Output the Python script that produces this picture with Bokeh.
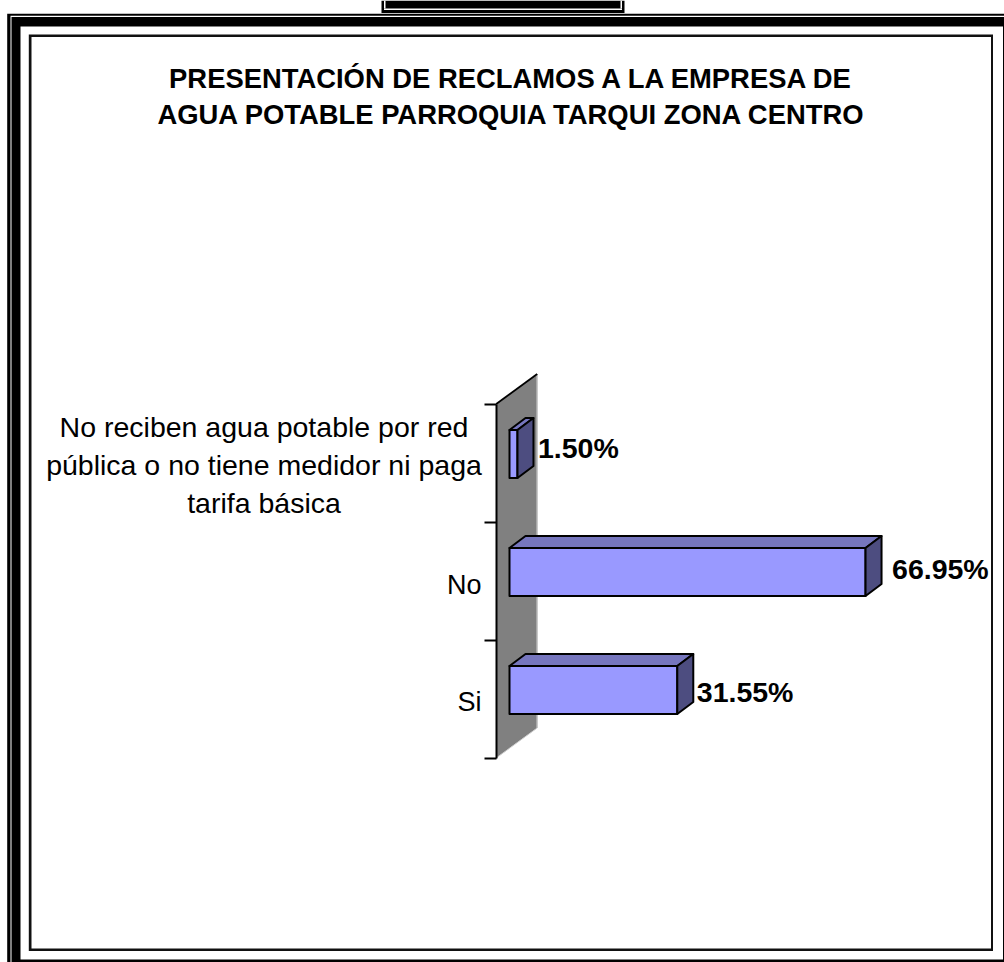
from bokeh.embed import file_html
from bokeh.resources import INLINE
from bokeh.plotting import figure
from bokeh.models import ColumnDataSource, LinearAxis, FixedTicker, BoxAnnotation, Range1d
from bokeh.core.properties import value

# --- data ---
categories = ["Si", "No", "No reciben agua potable por red\npública o no tiene medidor ni paga\ntarifa básica"]
percent = [31.55, 66.95, 1.50]
labels = ["31.55%", "66.95%", "1.50%"]
title_lines = ["PRESENTACIÓN DE RECLAMOS A LA EMPRESA DE", "AGUA POTABLE PARROQUIA TARQUI ZONA CENTRO"]
row_edges = [-0.5, 0.5, 1.5, 2.5]

# --- scale: page pixels <-> data ---
W, H = 1004, 962
PX_PER_PCT = 5.318
PX_PER_ROW = 118.0
X0_PX = 509.0
Y0_PX = 698.5
def X(px): return (px - X0_PX) / PX_PER_PCT
def Y(py): return (Y0_PX - py) / PX_PER_ROW

p = figure(width=W, height=H, output_backend="svg", toolbar_location=None,
           x_range=Range1d(X(0), X(W)), y_range=Range1d(Y(H), Y(0)),
           x_axis_type=None, y_axis_type=None, min_border=0,
           outline_line_color=None, background_fill_color="white", border_fill_color="white")
p.styles = {"position": "absolute", "left": "0px", "top": "0px"}
p.grid.visible = False

# --- page frames (screen units, measured from the top of the page) ---
def box(l, r, t, b, c):
    p.add_layout(BoxAnnotation(left=l, right=r, top=H - t, bottom=H - b, left_units="screen", right_units="screen",
                               top_units="screen", bottom_units="screen", fill_color=c, fill_alpha=1,
                               line_color=None, level="underlay"))
# small top box
box(381, 624, 0, 12.5, "black"); box(383.5, 621.5, 8, 9.5, "white"); box(383.5, 385, 0, 8, "white"); box(620, 621.5, 0, 8, "white")
# main thick frame
box(6.7, W, 13.3, H, "black")
box(10, W, 15.3, H, "white")
box(11, W, 16.5, H, "black")
box(20, 1002.5, 26, 959, "white")
# inner border
box(28.3, 992.5, 34, 950.5, "#111111")
box(31, 990.5, 36.5, 948, "white")

# --- wall ---
DEPTH_X = 41 / PX_PER_PCT
DEPTH_Y = 30 / PX_PER_ROW
ax_x = X(495.7)
wall_x = [ax_x, ax_x + DEPTH_X, ax_x + DEPTH_X, ax_x]
wall_y = [row_edges[0], row_edges[0] + DEPTH_Y, row_edges[-1] + DEPTH_Y, row_edges[-1]]
p.patch(wall_x, wall_y, fill_color="#808080", line_color=None)
p.line(wall_x[1:3] , wall_y[1:3], line_color="#c8c8c8", line_width=1.5)
p.line(wall_x[:2], wall_y[:2], line_color="#d0d0d0", line_width=1)
p.line(wall_x[2:], wall_y[2:], line_color="black", line_width=1.8)

# --- axis ---
axis = LinearAxis(fixed_location=ax_x, bounds=(row_edges[0], row_edges[-1]),
                  ticker=FixedTicker(ticks=row_edges),
                  major_label_overrides={t: "" for t in row_edges},
                  major_tick_in=0, major_tick_out=12, minor_tick_out=0, minor_tick_in=0,
                  major_tick_line_width=1.8, axis_line_width=2,
                  axis_line_color="black", major_tick_line_color="black")
p.add_layout(axis, "left")

# --- 3D bars ---
HALF = 24 / PX_PER_ROW
LIFT = 9 / PX_PER_ROW
DX = 16 / PX_PER_PCT
DY = 12 / PX_PER_ROW
front_xs, front_ys, top_xs, top_ys, side_xs, side_ys = [], [], [], [], [], []
for i, v in enumerate(percent):
    lo, hi = i + LIFT - HALF, i + LIFT + HALF
    front_xs.append([0, v, v, 0]); front_ys.append([lo, lo, hi, hi])
    top_xs.append([0, v, v + DX, DX]); top_ys.append([hi, hi, hi + DY, hi + DY])
    side_xs.append([v, v + DX, v + DX, v]); side_ys.append([lo, lo + DY, hi + DY, hi])
bar_line = dict(line_color="black", line_width=2, line_join="round")
p.patches(front_xs, front_ys, fill_color="#9999FF", **bar_line)
p.patches(top_xs, top_ys, fill_color="#7676BE", **bar_line)
p.patches(side_xs, side_ys, fill_color="#4D4D80", **bar_line)

# --- value labels ---
label_dx = [19.5, 26.5, 20.5]  # px right of the bar front
label_dy = [-1.5, 2.7, 6.0]    # px, up from the bar centre
src = ColumnDataSource(dict(x=percent, y=[i + LIFT for i in range(3)], t=labels, dx=label_dx, dy=[-d for d in label_dy]))
p.text("x", "y", text="t", source=src, x_offset="dx", y_offset="dy", text_font=value("Liberation Sans"),
       text_font_style="bold", text_font_size="28.5px", text_align="left", text_baseline="middle", text_color="black")

# --- category labels ---
cat_x = [X(481), X(481), X(263.5)]
cat_y = [Y(701), Y(584), Y(464.5)]
cat_align = ["right", "right", "center"]
cat_size = ["27px", "27px", "28.5px"]
csrc = ColumnDataSource(dict(x=cat_x, y=cat_y, t=categories, a=cat_align, s=cat_size))
p.text("x", "y", text="t", source=csrc, text_align="a", text_baseline="middle", text_line_height=1.18,
       text_font=value("Liberation Sans"), text_font_size="s", text_color="black")

# --- title ---
tsrc = ColumnDataSource(dict(x=[X(511.5), X(511.5)], y=[Y(78), Y(114)], t=title_lines))
p.text("x", "y", text="t", source=tsrc, text_align="center", text_baseline="middle",
       text_font=value("Liberation Sans"), text_font_style="bold", text_font_size="27.4px", text_color="black")

open("out.html", "w").write(file_html(p, INLINE))
